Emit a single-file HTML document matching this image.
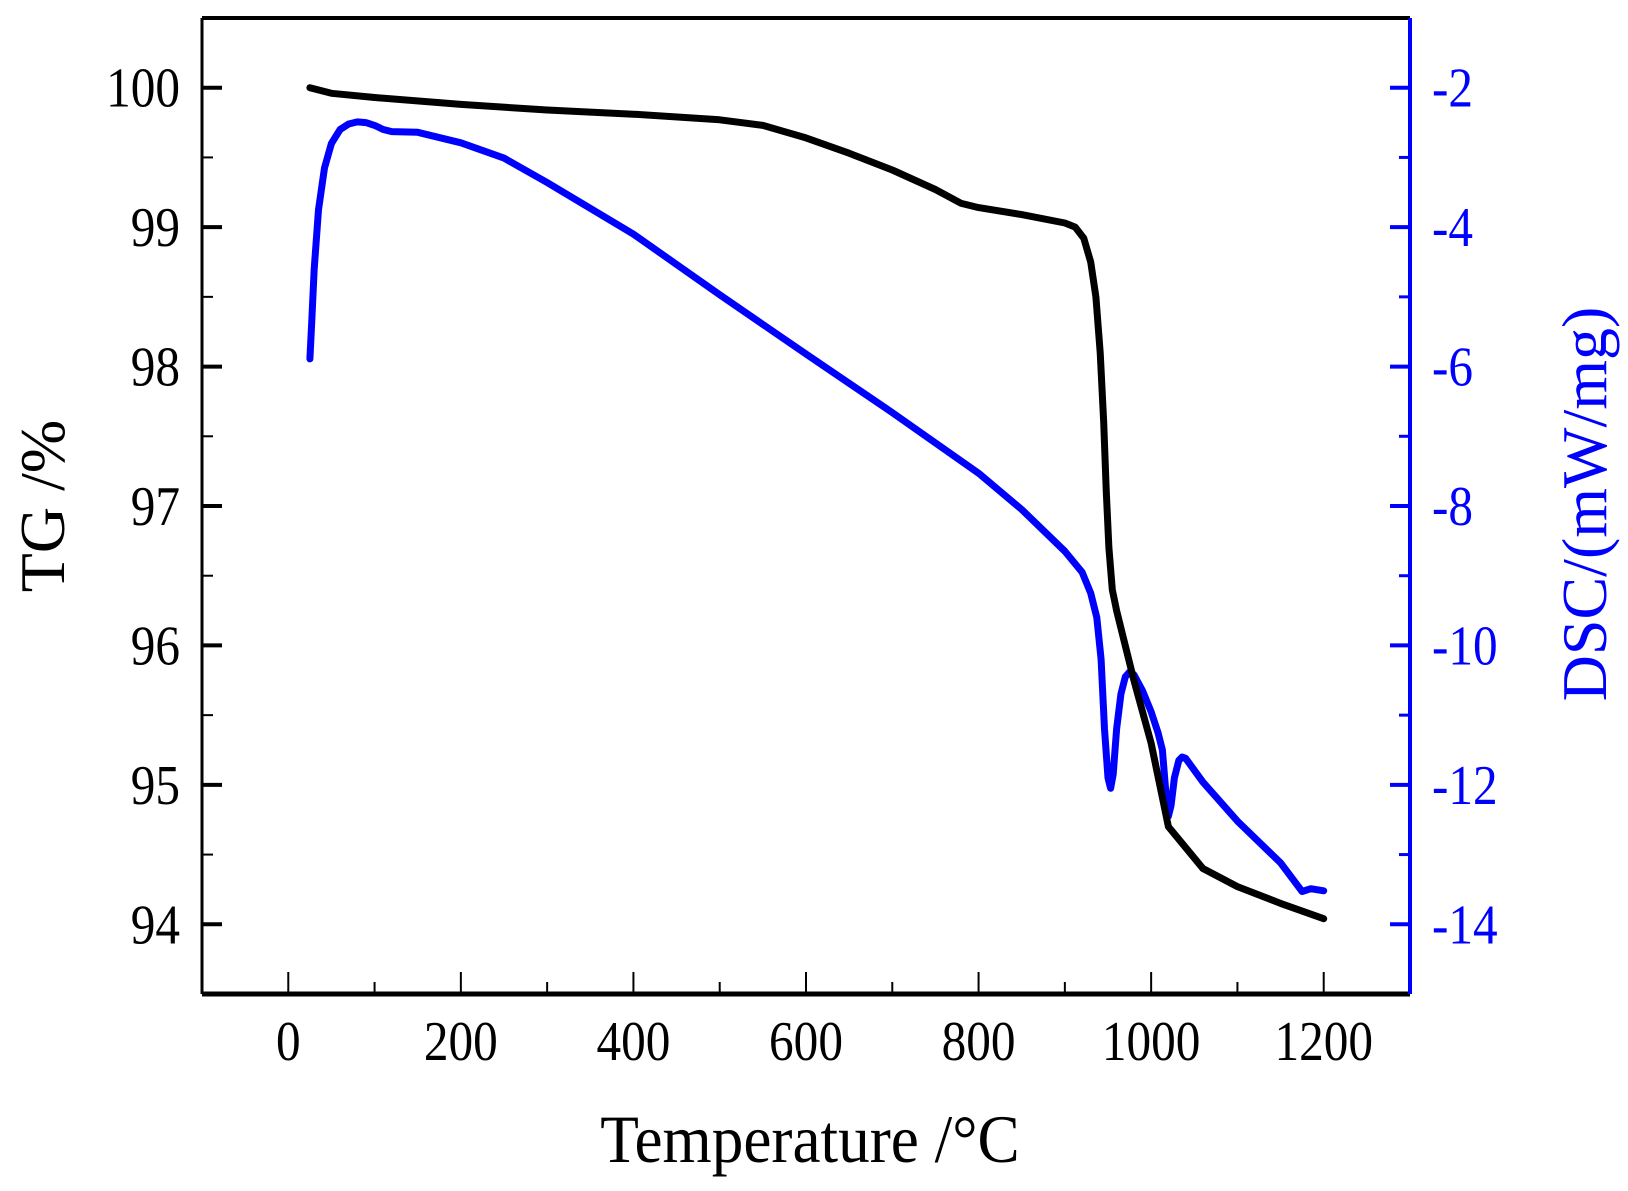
<!DOCTYPE html>
<html><head><meta charset="utf-8"><style>
html,body{margin:0;padding:0;background:#fff;}
svg text{font-family:"Liberation Serif",serif;}
</style></head><body>
<svg id="chart" width="1628" height="1186" viewBox="0 0 1628 1186" xmlns="http://www.w3.org/2000/svg">
<g id="axes"></g>
<g id="series"></g>
</svg>
<script>
const xTicks=[0,200,400,600,800,1000,1200];
const tgTicks=[94,95,96,97,98,99,100];
const dscTicks=[-14,-12,-10,-8,-6,-4,-2];
const tgTemp=[25,50,100,200,300,400,500,550,600,650,700,750,780,800,850,900,912,922,930,936,941,945,948,951,955,960,968,980,1000,1020,1040,1060,1100,1150,1200];
const tgVal=[100.0,99.96,99.93,99.88,99.84,99.81,99.77,99.73,99.64,99.53,99.41,99.27,99.17,99.14,99.09,99.03,99.0,98.92,98.75,98.5,98.1,97.6,97.1,96.7,96.4,96.25,96.05,95.75,95.3,94.7,94.55,94.4,94.27,94.15,94.04];
const dscTemp=[25,27,30,35,42,50,60,70,80,90,100,110,120,150,200,250,300,400,500,600,700,800,850,900,920,930,937,942,946,950,953,956,960,965,970,975,980,990,1000,1008,1013,1017,1020,1023,1027,1032,1036,1040,1060,1100,1150,1175,1185,1200];
const dscVal=[-5.89,-5.4,-4.6,-3.75,-3.15,-2.8,-2.6,-2.52,-2.49,-2.5,-2.54,-2.6,-2.63,-2.64,-2.79,-3.01,-3.36,-4.1,-4.97,-5.82,-6.66,-7.53,-8.05,-8.65,-8.95,-9.25,-9.6,-10.2,-11.2,-11.9,-12.05,-11.85,-11.2,-10.7,-10.45,-10.38,-10.42,-10.65,-10.95,-11.25,-11.5,-12.1,-12.45,-12.3,-11.9,-11.65,-11.6,-11.62,-11.96,-12.52,-13.12,-13.53,-13.49,-13.52];

const L=202,R=1410,T=18,B=994;
const X=v=>L+(v+100)/1400*(R-L);
const YL=v=>B-(v-93.5)/7*(B-T);
const YR=v=>B-(v+15)/14*(B-T);
const NS="http://www.w3.org/2000/svg";
function mk(parent,tag,attrs){const e=document.createElementNS(NS,tag);for(const k in attrs)e.setAttribute(k,attrs[k]);parent.appendChild(e);return e;}
const ax=document.getElementById('axes');
const se=document.getElementById('series');

let e;
e=mk(ax,'line',{x1:L,y1:T,x2:R,y2:T,stroke:'#000','stroke-width':4});


e=mk(ax,'line',{x1:L,y1:B,x2:R,y2:B,stroke:'#000','stroke-width':5});


e=mk(ax,'line',{x1:L,y1:T,x2:L,y2:B,stroke:'#000','stroke-width':3});


e=mk(ax,'line',{x1:R,y1:T,x2:R,y2:B,stroke:'#0000ff','stroke-width':4});



for(let v=-100;v<=1300;v+=100){
  const major=xTicks.includes(v);
  if(v===-100||v===1300) continue;
  e=mk(ax,'line',{x1:X(v),y1:B,x2:X(v),y2:B-(major?22:12),stroke:'#000','stroke-width':2});
  
  
}
xTicks.forEach(v=>{
  e=mk(ax,'text',{x:0,y:0,'text-anchor':'middle','font-size':56,fill:'#000',transform:`translate(${X(v)},1060) scale(0.88,1)`});
  e.textContent=v;
  
  
});
for(let v=94;v<=100.01;v+=0.5){
  const major=Math.abs(v-Math.round(v))<0.01;
  e=mk(ax,'line',{x1:L,y1:YL(v),x2:L+(major?20:11),y2:YL(v),stroke:'#000','stroke-width':major?4:2});
  
  
}
tgTicks.forEach(v=>{
  e=mk(ax,'text',{x:0,y:0,'text-anchor':'end','font-size':56,fill:'#000',transform:`translate(180,${YL(v)+19}) scale(0.88,1)`});
  e.textContent=v;
  
  
});
for(let v=-14;v<=-2;v+=1){
  const major=v%2===0;
  e=mk(ax,'line',{x1:R,y1:YR(v),x2:R-(major?20:11),y2:YR(v),stroke:'#0000ff','stroke-width':major?4:3});
  
  
}
dscTicks.forEach(v=>{
  e=mk(ax,'text',{x:0,y:0,'text-anchor':'start','font-size':56,fill:'#0000ff',transform:`translate(1432,${YR(v)+19}) scale(0.88,1)`});
  e.textContent=String(v);
  
  
});
e=mk(ax,'text',{x:0,y:0,'text-anchor':'middle','font-size':68,fill:'#000',transform:'translate(810,1162) scale(0.93,1)'});
e.textContent='Temperature /°C';


e=mk(ax,'text',{x:0,y:0,'text-anchor':'middle','font-size':64,fill:'#000',transform:'translate(64,506) rotate(-90)'});
e.textContent='TG /%';


e=mk(ax,'text',{x:0,y:0,'text-anchor':'middle','font-size':64,fill:'#0000ff',transform:'translate(1606,504) rotate(-90)'});
e.textContent='DSC/(mW/mg)';



function path(xs,ys,fy){return xs.map((t,i)=>(i?'L':'M')+X(t).toFixed(1)+','+fy(ys[i]).toFixed(1)).join(' ');}
e=mk(se,'path',{d:path(dscTemp,dscVal,YR),fill:'none',stroke:'#0000ff','stroke-width':7,'stroke-linejoin':'round','stroke-linecap':'round'});


e=mk(se,'path',{d:path(tgTemp,tgVal,YL),fill:'none',stroke:'#000','stroke-width':7,'stroke-linejoin':'round','stroke-linecap':'round'});


</script>
</body></html>
